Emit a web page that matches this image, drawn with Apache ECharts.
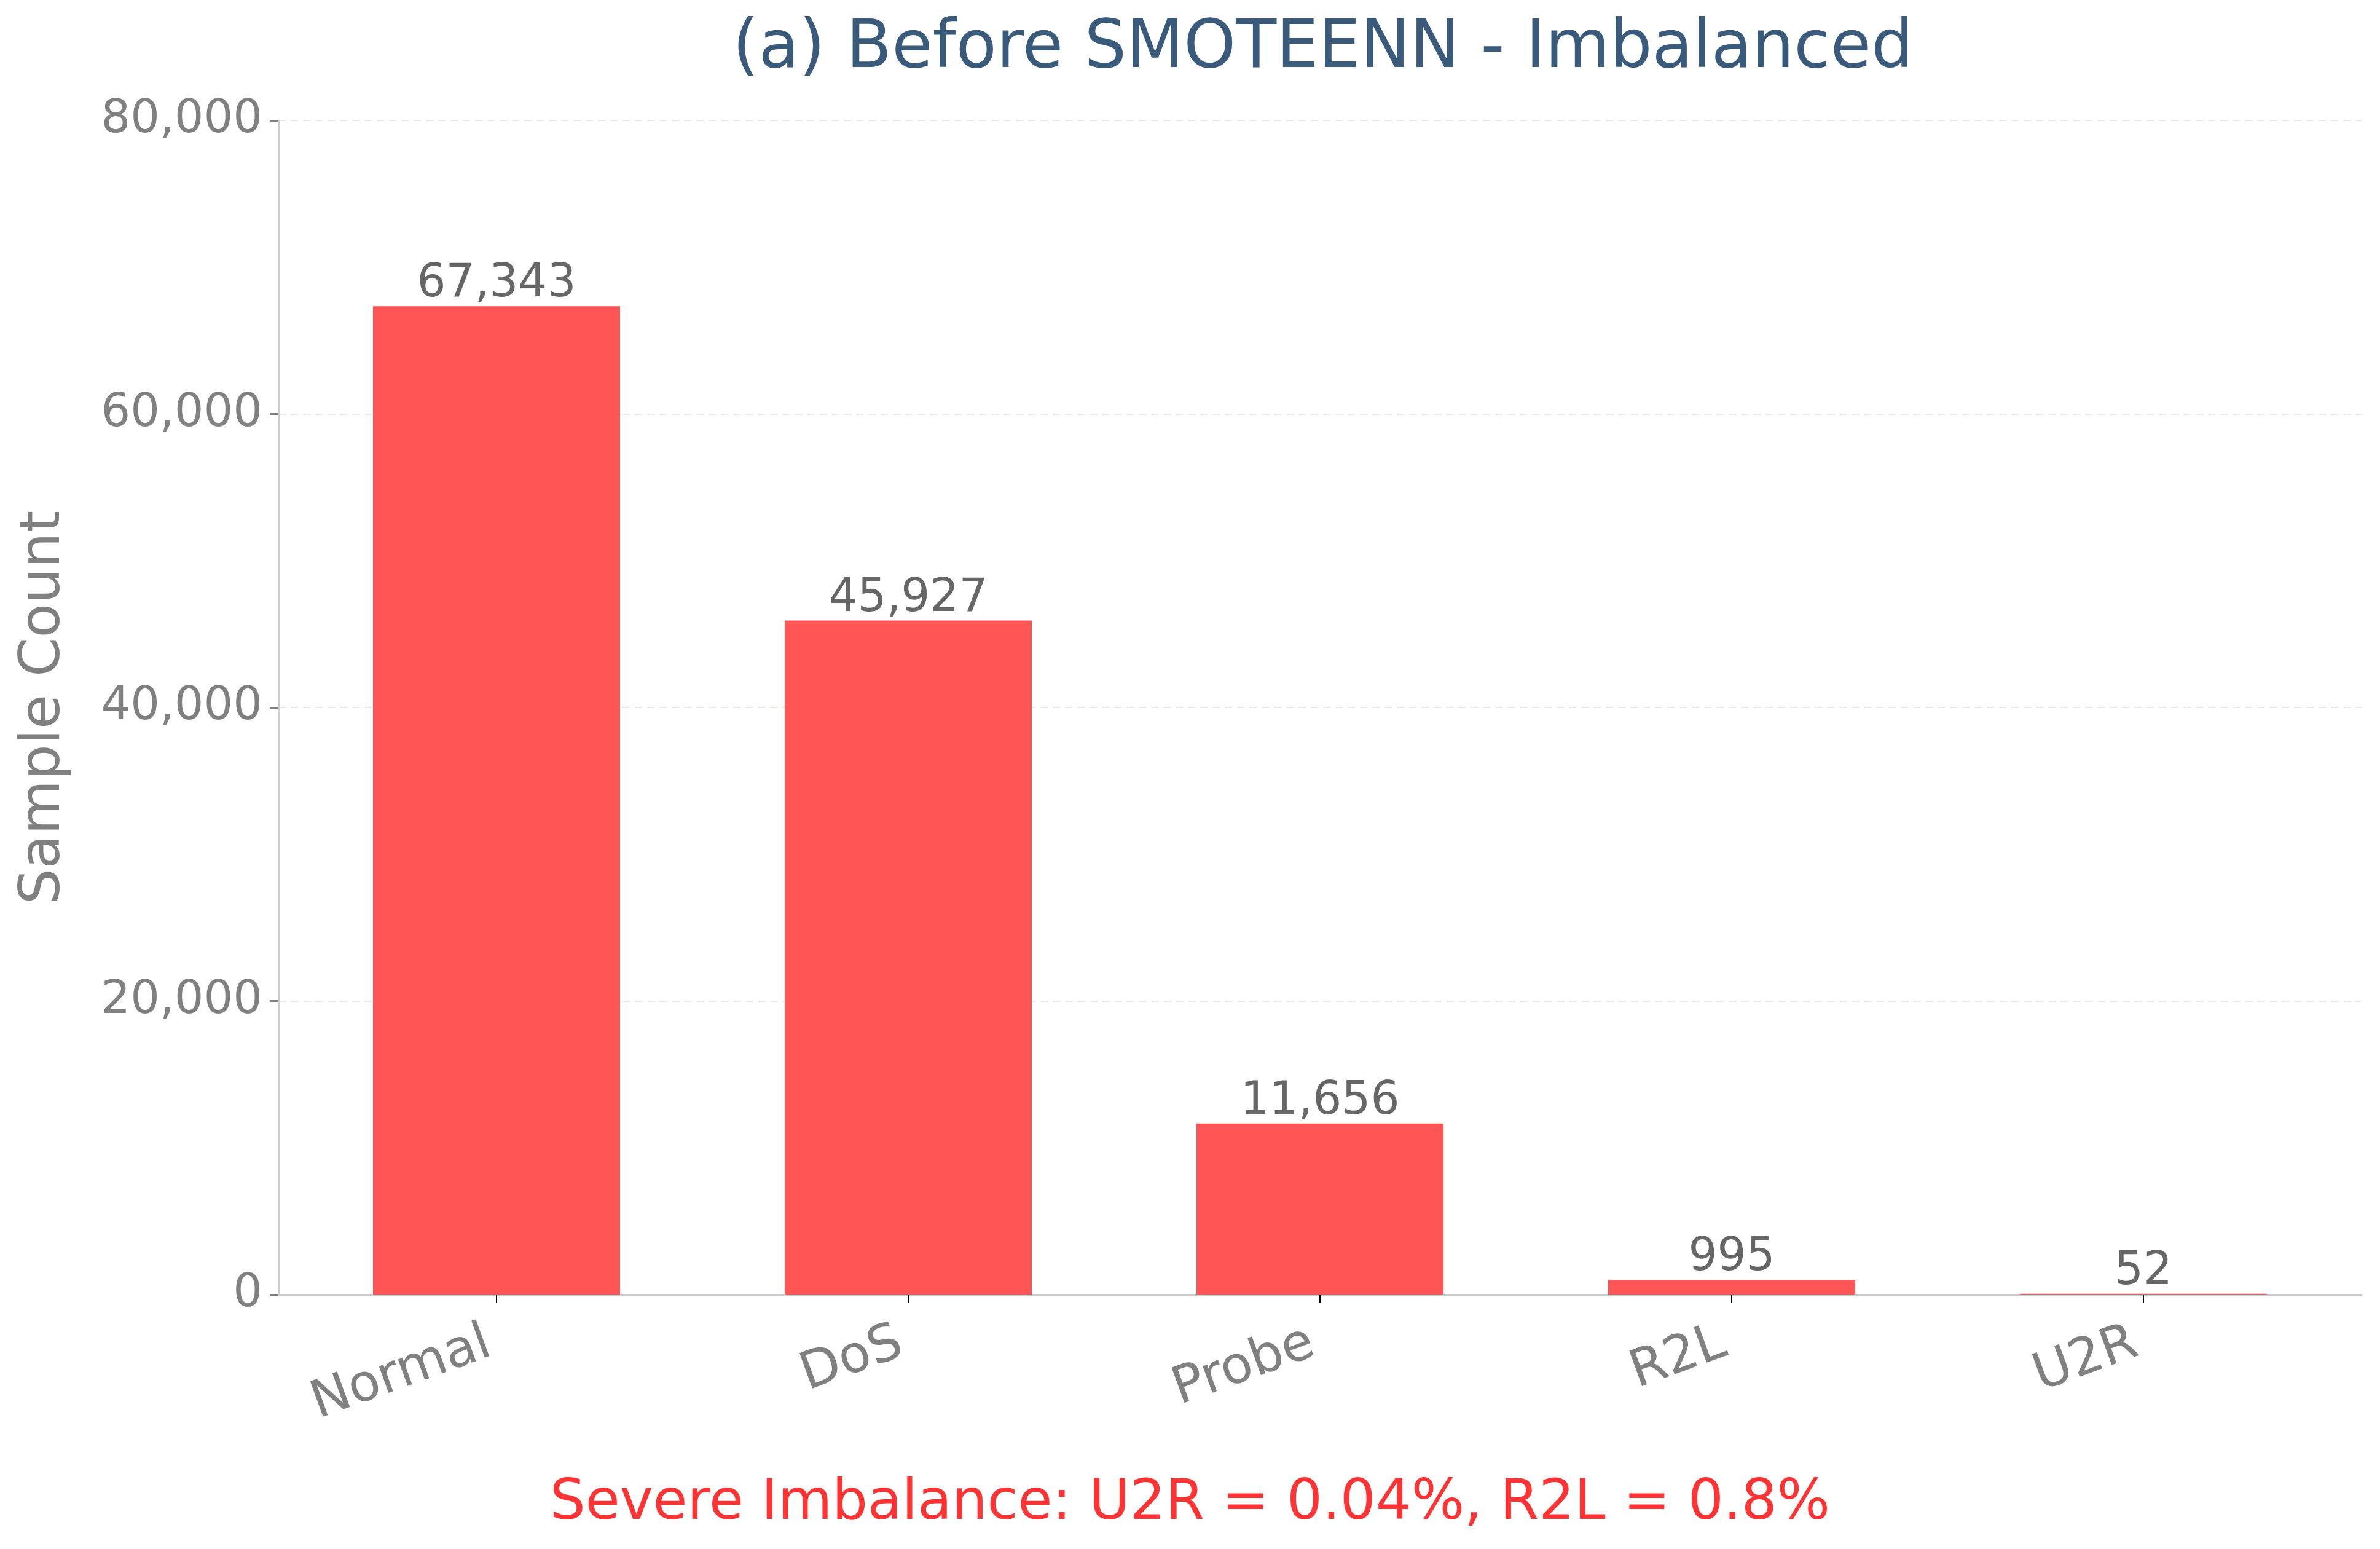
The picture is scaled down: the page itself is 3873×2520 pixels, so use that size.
<!DOCTYPE html>
<html>
<head>
  <meta charset="utf-8">
  <title>Before SMOTEENN</title>
  <script src="https://cdn.jsdelivr.net/npm/echarts@6/dist/echarts.min.js"></script>
  <style>
    html, body { margin: 0; padding: 0; background: #fff; }
    #main { width: 3873px; height: 2520px; }
  </style>
</head>
<body>
<div id="main"></div>
<script>
// data
var categories = ['Normal', 'DoS', 'Probe', 'R2L', 'U2R'];
var counts = [67343, 45927, 11656, 995, 52];
var yTicks = [0, 20000, 40000, 60000, 80000];

var font = 'DejaVu Sans';
function fmt(v) { return v.toLocaleString('en-US'); }

var chart = echarts.init(document.getElementById('main'), null, { renderer: 'canvas' });

// plot frame (px)
var plotLeft = 453, plotRight = 3843;

var option = {
  backgroundColor: '#ffffff',
  animation: false,
  title: [{
    text: '(a) Before SMOTEENN - Imbalanced',
    left: (plotLeft + plotRight) / 2,
    textAlign: 'center',
    top: 22,
    textStyle: { fontFamily: font, fontSize: 108, fontWeight: 'normal', color: '#3a5a7c' }
  }, {
    text: 'Severe Imbalance: U2R = 0.04%, R2L = 0.8%',
    left: 'center',
    top: 2397,
    textStyle: { fontFamily: font, fontSize: 91, fontWeight: 'normal', color: '#ff3333' }
  }],
  grid: [
    // bars: 5 categories spanning xlim -0.5..4.5
    { left: 473, right: 50, top: 196, bottom: 414 },
    // axes frame: xlim -0.53..4.53
    { left: plotLeft, right: 3873 - plotRight, top: 196, bottom: 414 }
  ],
  xAxis: [{
    type: 'category',
    gridIndex: 0,
    data: categories,
    axisLine: { show: false },
    axisTick: { show: true, alignWithLabel: true, length: 14, lineStyle: { color: '#000', width: 2 } },
    axisLabel: {
      rotate: 20, margin: 28,
      align: 'right', verticalAlign: 'top',
      padding: [0, 28, 0, 0],
      fontFamily: font, fontSize: 84, color: '#808080'
    }
  }, {
    type: 'value',
    gridIndex: 1,
    min: 0, max: 1,
    axisLine: { show: true, onZero: false, lineStyle: { color: '#cccccc', width: 3 } },
    axisTick: { show: false },
    axisLabel: { show: false },
    splitLine: { show: false }
  }],
  yAxis: [{
    type: 'value',
    gridIndex: 0,
    min: 0, max: 80000,
    show: false
  }, {
    type: 'value',
    gridIndex: 1,
    min: 0, max: 80000, interval: 20000,
    name: 'Sample Count',
    nameLocation: 'middle',
    nameGap: 335,
    nameTextStyle: { fontFamily: font, fontSize: 91, color: '#808080' },
    axisLine: { show: true, lineStyle: { color: '#cccccc', width: 3 } },
    axisTick: { show: true, length: 14, lineStyle: { color: '#808080', width: 3 } },
    axisLabel: {
      margin: 26, fontFamily: font, fontSize: 75, color: '#808080',
      formatter: function (v) { return fmt(v); }
    },
    splitLine: { show: true, lineStyle: { color: '#e8e8e8', width: 2, type: [12, 8] } }
  }],
  series: [{
    type: 'bar',
    xAxisIndex: 0,
    yAxisIndex: 0,
    data: counts,
    barWidth: '60%',
    itemStyle: { color: '#ff5555' },
    label: {
      show: true,
      position: 'top',
      distance: -2,
      lineHeight: 74,
      fontFamily: font,
      fontSize: 74,
      color: '#666666',
      formatter: function (p) { return fmt(p.value); }
    }
  }]
};

chart.setOption(option);
</script>
</body>
</html>
